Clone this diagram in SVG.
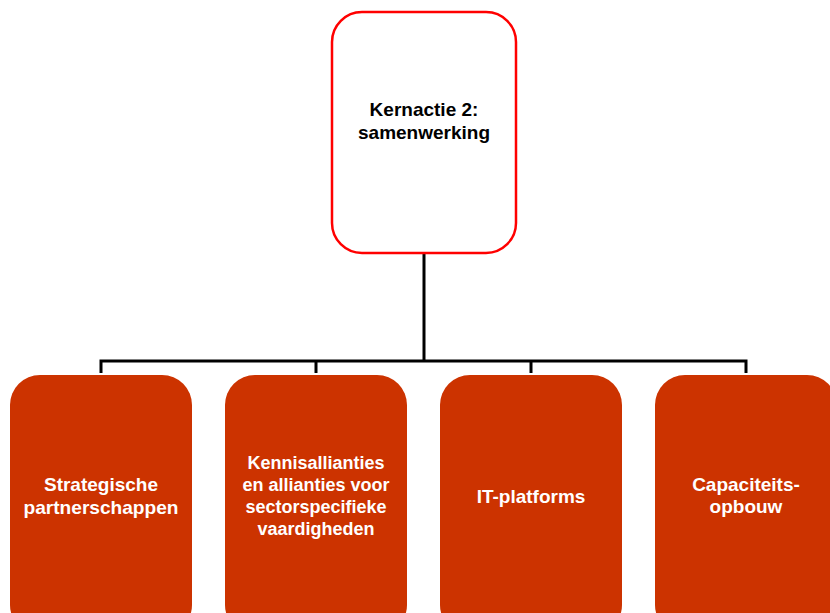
<svg xmlns="http://www.w3.org/2000/svg" width="830" height="613" viewBox="0 0 830 613">
<style>
.t{font-family:"Liberation Sans",Arial,sans-serif;font-weight:bold;font-size:19px;text-anchor:middle}
.s{font-size:18px}
.w{fill:#ffffff}
.k{fill:#000000}
.box{fill:#CC3300}
.c{fill:none;stroke:#000;stroke-width:3}
</style>
<rect width="830" height="613" fill="#ffffff"/>
<g id="connectors">
<path class="c" d="M424 253V361M101 373V361H746V373M316 361V373M531 361V373"/>
</g>
<g id="root">
<rect x="332" y="12" width="184" height="241" rx="30" fill="#fff" stroke="#FF0000" stroke-width="2.5"/>
<text class="t k" x="424" y="116">Kernactie 2:</text>
<text class="t k" x="424" y="139">samenwerking</text>
</g>
<g id="n1">
<rect class="box" x="10" y="375" width="182" height="260" rx="30"/>
<text class="t w" x="101" y="491">Strategische</text>
<text class="t w" x="101" y="514" textLength="155" lengthAdjust="spacingAndGlyphs">partnerschappen</text>
</g>
<g id="n2">
<rect class="box" x="225" y="375" width="182" height="260" rx="30"/>
<text class="t s w" x="316" y="469">Kennisallianties</text>
<text class="t s w" x="316" y="491">en allianties voor</text>
<text class="t s w" x="316" y="513">sectorspecifieke</text>
<text class="t s w" x="316" y="535">vaardigheden</text>
</g>
<g id="n3">
<rect class="box" x="440" y="375" width="182" height="260" rx="30"/>
<text class="t w" x="531" y="503">IT-platforms</text>
</g>
<g id="n4">
<rect class="box" x="655" y="375" width="182" height="260" rx="30"/>
<text class="t w" x="746" y="491">Capaciteits-</text>
<text class="t w" x="746" y="513">opbouw</text>
</g>
</svg>
